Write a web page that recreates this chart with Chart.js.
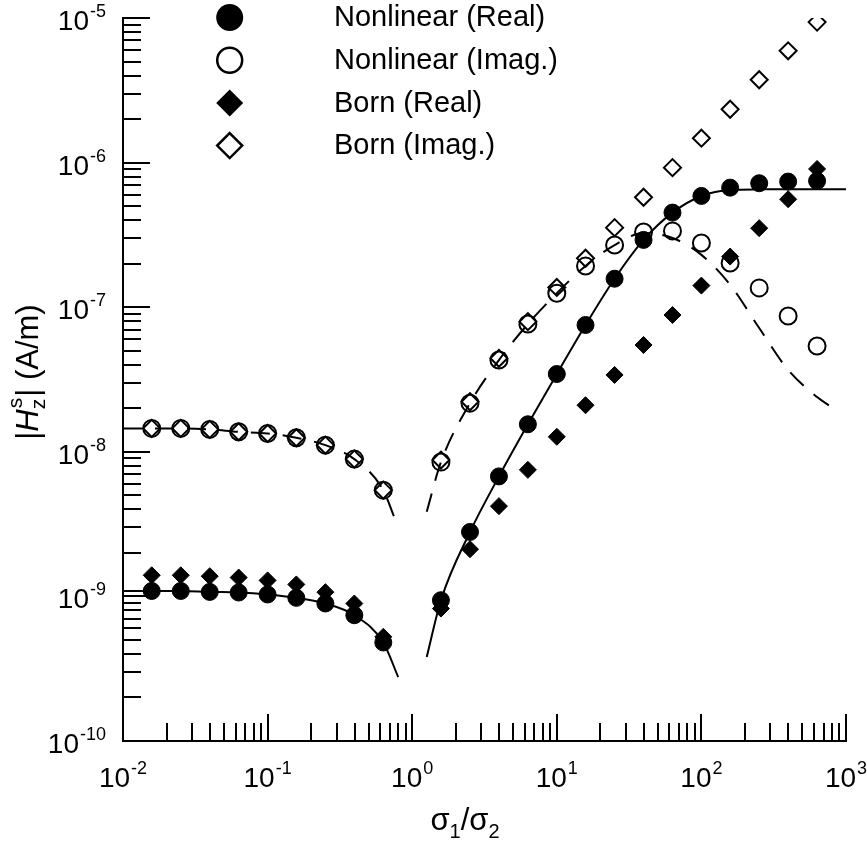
<!DOCTYPE html>
<html>
<head>
<meta charset="utf-8">
<script src="https://cdn.jsdelivr.net/npm/chart.js@4/dist/chart.umd.min.js"></script>
<style>
  html, body { margin: 0; padding: 0; background: #fff; }
</style>
</head>
<body>
<canvas id="chart" width="867" height="846"></canvas>
<script>
// conductivity ratio sigma1/sigma2 of the sampled models
const ratio = [0.0158, 0.0251, 0.0398, 0.0631, 0.1, 0.158, 0.251, 0.398, 0.631,
               1.58, 2.51, 3.98, 6.31, 10, 15.8, 25.1, 39.8, 63.1, 100, 158, 251, 398, 631];

// |Hz^s| in A/m
const nonlinearReal = [1.09e-9, 1.09e-9, 1.074e-9, 1.064e-9, 1.031e-9, 9.77e-10, 8.93e-10, 7.41e-10, 4.8e-10,
                       9.41e-10, 2.79e-9, 6.76e-9, 1.55e-8, 3.45e-8, 7.53e-8, 1.574e-7, 2.92e-7, 4.51e-7, 5.88e-7, 6.71e-7, 7.2e-7, 7.39e-7, 7.47e-7];
const nonlinearImag = [1.452e-8, 1.452e-8, 1.429e-8, 1.375e-8, 1.34e-8, 1.25e-8, 1.112e-8, 8.9e-9, 5.43e-9,
                       8.49e-9, 2.17e-8, 4.31e-8, 7.65e-8, 1.25e-7, 1.93e-7, 2.69e-7, 3.31e-7, 3.37e-7, 2.78e-7, 2.02e-7, 1.36e-7, 8.69e-8, 5.39e-8];
const bornReal = [1.4e-9, 1.4e-9, 1.38e-9, 1.35e-9, 1.29e-9, 1.21e-9, 1.07e-9, 8.93e-10, 5.25e-10,
                  8.24e-10, 2.12e-9, 4.21e-9, 7.5e-9, 1.27e-8, 2.1e-8, 3.4e-8, 5.48e-8, 8.83e-8, 1.41e-7, 2.24e-7, 3.52e-7, 5.58e-7, 9.04e-7];
const bornImag = [1.452e-8, 1.452e-8, 1.429e-8, 1.375e-8, 1.34e-8, 1.25e-8, 1.112e-8, 8.9e-9, 5.43e-9,
                  8.77e-9, 2.22e-8, 4.43e-8, 7.94e-8, 1.37e-7, 2.18e-7, 3.55e-7, 5.76e-7, 9.23e-7, 1.475e-6, 2.34e-6, 3.74e-6, 5.93e-6, 9.37e-6];

// reference curves, split around sigma1/sigma2 = 1
const curveLowRatio = [0.01, 0.0158, 0.0251, 0.0398, 0.0631, 0.1, 0.158, 0.251, 0.398, 0.631];
const curveRealLow = [1.09e-9, 1.09e-9, 1.09e-9, 1.074e-9, 1.064e-9, 1.031e-9, 9.77e-10, 8.93e-10, 7.41e-10, 4.8e-10];
const curveImagLow = [1.45e-8, 1.452e-8, 1.452e-8, 1.429e-8, 1.375e-8, 1.34e-8, 1.25e-8, 1.112e-8, 8.9e-9, 5.43e-9];
const curveRealLowEnd = [0.8, 2.77e-10];
const curveImagLowEnd = [0.75, 3.55e-9];

const curveHighRatio = [1.26, 1.58, 2.51, 3.98, 6.31, 10, 15.8, 25.1, 39.8, 63.1, 100, 158, 251, 398, 631];
const curveRealHigh = [3.81e-10, 9.41e-10, 2.79e-9, 6.76e-9, 1.55e-8, 3.45e-8, 7.53e-8, 1.574e-7, 2.92e-7, 4.51e-7, 5.88e-7, 6.47e-7, 6.53e-7, 6.55e-7, 6.55e-7];
const curveImagHigh = [3.85e-9, 8.49e-9, 2.17e-8, 4.31e-8, 7.65e-8, 1.25e-7, 1.93e-7, 2.69e-7, 3.26e-7, 3.01e-7, 2.3e-7, 1.43e-7, 7.18e-8, 3.68e-8, 2.39e-8];
const curveRealHighEnd = [1000, 6.55e-7];
const curveImagHighEnd = [815, 2.0e-8];

const xDecades = [-2, -1, 0, 1, 2, 3];
const yDecades = [-10, -9, -8, -7, -6, -5];

const seriesNames = ['Nonlinear (Real)', 'Nonlinear (Imag.)', 'Born (Real)', 'Born (Imag.)'];

const FONT = '"Liberation Sans", Arial, sans-serif';

const pts = (xs, ys) => xs.map((x, i) => ({ x: x, y: ys[i] }));
const withEnd = (xs, ys, end) => pts(xs.concat([end[0]]), ys.concat([end[1]]));

function markerSet(label, values, style, filled) {
  return {
    type: 'scatter',
    label: label,
    data: pts(ratio, values),
    showLine: false,
    pointStyle: style,
    pointRadius: 8.5,
    pointBorderWidth: filled ? 1 : 2,
    pointBorderColor: '#000',
    pointBackgroundColor: filled ? '#000' : 'rgba(0,0,0,0)'
  };
}

function curveSet(data, dashed) {
  return {
    type: 'line',
    data: data,
    borderColor: '#000',
    borderWidth: 2,
    borderDash: dashed ? [19, 13] : [],
    pointRadius: 0,
    fill: false,
    cubicInterpolationMode: 'monotone'
  };
}

function drawPower(ctx, x, base, exp, align) {
  const big = '28px ' + FONT, small = '18px ' + FONT;
  ctx.font = big;
  const w1 = ctx.measureText('10').width + 1;
  ctx.font = small;
  const w2 = ctx.measureText(exp).width;
  const left = align === 'center' ? x - (w1 + w2) / 2 : x - (w1 + w2);
  ctx.textAlign = 'left';
  ctx.textBaseline = 'alphabetic';
  ctx.font = big;
  ctx.fillText('10', left, base);
  ctx.font = small;
  ctx.fillText(exp, left + w1, base - 13);
}

// log axes with inward ticks and 10^n labels
const logAxes = {
  id: 'logAxes',
  beforeDatasetsDraw(chart) {
    const { ctx, chartArea: a, scales: { x, y } } = chart;
    ctx.save();
    ctx.strokeStyle = '#000';
    ctx.lineWidth = 2;
    ctx.beginPath();
    xDecades.forEach(k => {
      for (let m = 1; m < 10; m++) {
        const v = m * Math.pow(10, k);
        if (v > 1000.001) break;
        const px = Math.round(x.getPixelForValue(v));
        ctx.moveTo(px, a.bottom);
        ctx.lineTo(px, a.bottom - (m === 1 ? 27 : 18));
      }
    });
    yDecades.forEach(k => {
      for (let m = 1; m < 10; m++) {
        const v = m * Math.pow(10, k);
        if (v > 1.0001e-5) break;
        const py = Math.round(y.getPixelForValue(v));
        ctx.moveTo(a.left, py);
        ctx.lineTo(a.left + (m === 1 ? 27 : 18), py);
      }
    });
    ctx.stroke();

    ctx.fillStyle = '#000';
    xDecades.forEach(k => {
      drawPower(ctx, x.getPixelForValue(Math.pow(10, k)), a.bottom + 46, String(k), 'center');
    });
    yDecades.forEach(k => {
      drawPower(ctx, a.left - 17, y.getPixelForValue(Math.pow(10, k)) + 12, String(k), 'right');
    });

    // x title: sigma1/sigma2
    const big = '31px ' + FONT, sub = '20px ' + FONT;
    const parts = [['σ', big, 0], ['1', sub, 8], ['/', big, 0], ['σ', big, 0], ['2', sub, 8]];
    let w = 0;
    parts.forEach(p => { ctx.font = p[1]; w += ctx.measureText(p[0]).width; });
    let cx = 465 - w / 2;
    const xb = a.bottom + 89;
    parts.forEach(p => {
      ctx.font = p[1];
      ctx.fillText(p[0], cx, xb + p[2]);
      cx += ctx.measureText(p[0]).width;
    });

    // y title: |Hz^s| (A/m)
    ctx.translate(38, 372);
    ctx.rotate(-Math.PI / 2);
    const ybig = '31px ' + FONT, ysub = '21px ' + FONT;
    const ital = 'italic 31px ' + FONT;
    const seg1 = [['|', ybig], ['H', ital]];
    const tail = '| (A/m)';
    ctx.font = ysub;
    const ws = Math.max(ctx.measureText('z').width, ctx.measureText('s').width) + 2;
    let tw = ws;
    seg1.forEach(p => { ctx.font = p[1]; tw += ctx.measureText(p[0]).width; });
    ctx.font = ybig;
    tw += ctx.measureText(tail).width;
    let tx = -tw / 2;
    seg1.forEach(p => {
      ctx.font = p[1];
      ctx.fillText(p[0], tx, 0);
      tx += ctx.measureText(p[0]).width;
    });
    ctx.font = ysub;
    ctx.fillText('z', tx, 7);
    ctx.fillText('s', tx + 1, -16);
    tx += ws;
    ctx.font = ybig;
    ctx.fillText(tail, tx, 0);
    ctx.restore();
  },
  afterDraw(chart) {
    // key in the upper left of the plot
    const { ctx } = chart;
    const styles = [['circle', true], ['circle', false], ['rectRot', true], ['rectRot', false]];
    ctx.save();
    ctx.font = '29px ' + FONT;
    ctx.textAlign = 'left';
    ctx.textBaseline = 'alphabetic';
    styles.forEach((s, i) => {
      const cy = 17.5 + i * 42.7;
      const cx = 229.7, r = 13.5;
      ctx.beginPath();
      if (s[0] === 'circle') {
        ctx.arc(cx, cy, s[1] ? r : r - 1, 0, Math.PI * 2);
      } else {
        const d = s[1] ? r : r - 1;
        ctx.moveTo(cx, cy - d);
        ctx.lineTo(cx + d, cy);
        ctx.lineTo(cx, cy + d);
        ctx.lineTo(cx - d, cy);
        ctx.closePath();
      }
      ctx.fillStyle = '#000';
      ctx.strokeStyle = '#000';
      ctx.lineWidth = 2.5;
      if (s[1]) ctx.fill(); else ctx.stroke();
      ctx.fillText(seriesNames[i], 334, cy + 8.7);
    });
    ctx.restore();
  }
};

new Chart(document.getElementById('chart'), {
  data: {
    datasets: [
      markerSet(seriesNames[0], nonlinearReal, 'circle', true),
      markerSet(seriesNames[2], bornReal, 'rectRot', true),
      markerSet(seriesNames[1], nonlinearImag, 'circle', false),
      markerSet(seriesNames[3], bornImag, 'rectRot', false),
      curveSet(withEnd(curveLowRatio, curveRealLow, curveRealLowEnd), false),
      curveSet(withEnd(curveHighRatio, curveRealHigh, curveRealHighEnd), false),
      curveSet(withEnd(curveLowRatio, curveImagLow, curveImagLowEnd), true),
      curveSet(withEnd(curveHighRatio, curveImagHigh, curveImagHighEnd), true)
    ]
  },
  options: {
    responsive: false,
    devicePixelRatio: 1,
    animation: false,
    layout: { padding: { left: 123, top: 18, right: 21, bottom: 105 } },
    plugins: { legend: { display: false }, tooltip: { enabled: false } },
    scales: {
      x: {
        type: 'logarithmic', min: 0.01, max: 1000,
        grid: { display: false, drawTicks: false },
        ticks: { display: false },
        border: { display: true, color: '#000', width: 2 }
      },
      y: {
        type: 'logarithmic', min: 1e-10, max: 1e-5,
        grid: { display: false, drawTicks: false },
        ticks: { display: false },
        border: { display: true, color: '#000', width: 2 }
      }
    }
  },
  plugins: [logAxes]
});
</script>
</body>
</html>
